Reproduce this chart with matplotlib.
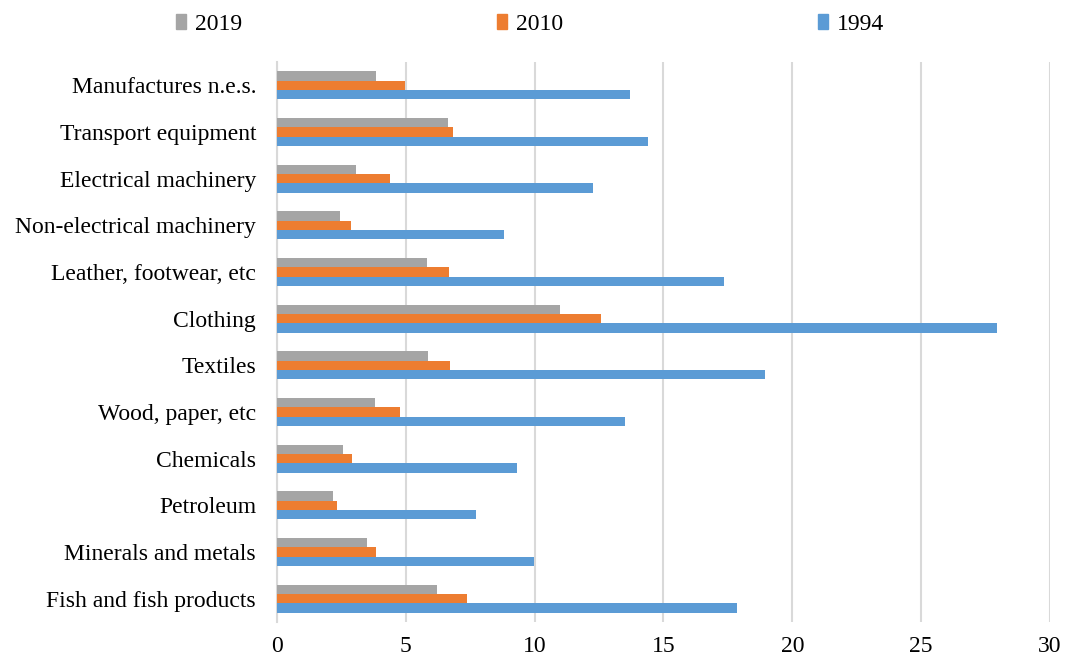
import numpy as np
import matplotlib.pyplot as plt
from matplotlib.patches import Patch

plt.rcParams['font.family'] = ['Liberation Serif', 'DejaVu Serif']

categories = ['Fish and fish products', 'Minerals and metals', 'Petroleum',
              'Chemicals', 'Wood, paper, etc', 'Textiles', 'Clothing',
              'Leather, footwear, etc', 'Non-electrical machinery',
              'Electrical machinery', 'Transport equipment', 'Manufactures n.e.s.']
v1994 = [17.85, 9.98, 7.73, 9.33, 13.49, 18.93, 27.96, 17.36, 8.83, 12.27, 14.39, 13.69]
v2010 = [7.36, 3.86, 2.32, 2.92, 4.76, 6.72, 12.57, 6.68, 2.89, 4.39, 6.84, 4.96]
v2019 = [6.22, 3.48, 2.18, 2.56, 3.79, 5.88, 10.98, 5.82, 2.44, 3.07, 6.62, 3.86]

c2019 = '#A5A5A5'
c2010 = '#ED7D31'
c1994 = '#5B9BD5'

fig = plt.figure(figsize=(10.66, 6.58), dpi=100)
ax = fig.add_axes([0.2598, 0.0547, 0.7252, 0.8511])

y = np.arange(len(categories))
h = 0.2
ax.barh(y + h, v2019, height=h, color=c2019, zorder=3)
ax.barh(y, v2010, height=h, color=c2010, zorder=3)
ax.barh(y - h, v1994, height=h, color=c1994, zorder=3)

ax.set_xlim(0, 30)
ax.set_ylim(-0.5, len(categories) - 0.5)
ax.set_xticks(range(0, 31, 5))
ax.set_yticks(y)
ax.set_yticklabels(categories)
ax.tick_params(axis='both', length=0, labelsize=17, colors='#000000')
ax.tick_params(axis='y', pad=15)
ax.tick_params(axis='x', pad=10)
ax.grid(axis='x', color='#D9D9D9', linewidth=1.5, zorder=0)
for s in ['top', 'right', 'bottom']:
    ax.spines[s].set_visible(False)
ax.spines['left'].set_color('#D9D9D9')
ax.spines['left'].set_linewidth(1.5)

handles = [Patch(color=c2019, label='2019'),
           Patch(color=c2010, label='2010'),
           Patch(color=c1994, label='1994')]
fig.legend(handles=handles, loc='center', bbox_to_anchor=(0.497, 0.963), ncol=3,
           frameon=False, fontsize=17, handlelength=0.45, handleheight=0.6,
           handletextpad=0.35, columnspacing=10.8)

fig.savefig('out.png', dpi=100)
